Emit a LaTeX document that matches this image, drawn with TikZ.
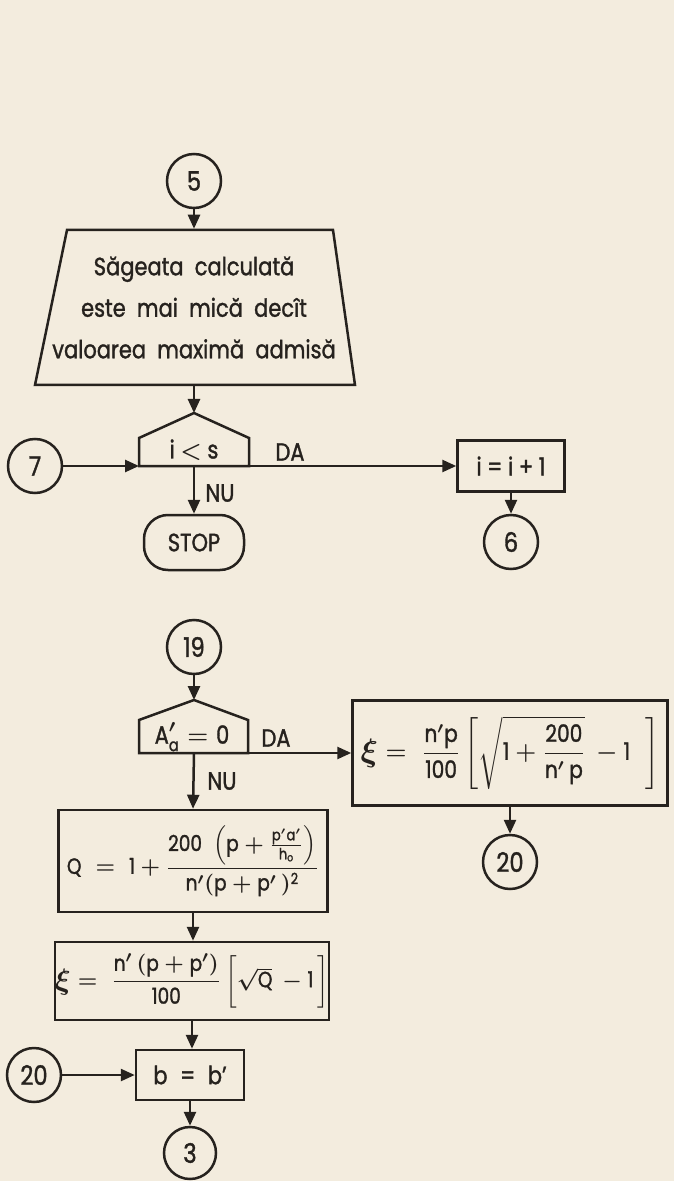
\documentclass[tikz,border=0pt]{standalone}
\usepackage{amsmath}
\usepackage{graphicx}
\usepackage{fontspec}
\setmainfont{Poppins}[FakeStretch=0.84,FakeBold=1.3]
\usetikzlibrary{arrows.meta}
\definecolor{paper}{RGB}{243,236,222}
\definecolor{ink}{RGB}{38,34,30}
\newcommand{\T}[1]{\text{#1}}
\newcommand{\bxi}{\raisebox{-0.15ex}{\scalebox{1.35}{$\xi$}}}
\begin{document}
\begin{tikzpicture}[x=0.5pt,y=-0.5pt,
  line width=1.25pt, draw=ink, text=ink,
  every node/.style={font=\fontsize{12.5}{20.75}\selectfont\boldmath},
  formula/.style={font=\fontsize{11}{13}\selectfont\boldmath},
  arr/.style={-{Triangle[length=7pt,width=6pt]}},
  conn/.style={circle,draw,minimum size=27pt,inner sep=0pt,font=\fontsize{13.5}{16}\selectfont},
  box/.style={rectangle,draw,inner sep=0pt},
  lbl/.style={inner sep=0pt}]
\fill[paper] (0,0) rectangle (674,1181);
\useasboundingbox (0,0) rectangle (674,1181);

% connector 5 and trapezoid
\node[conn] (c5) at (194,181) {5};
\draw (67,230) -- (333,230) -- (355,385) -- (35,385) -- cycle;
\node[lbl, minimum width=133pt, minimum height=77.5pt, align=center] (trap) at (194,307.5)
  {Săgeata\ \ calculată\\ este\ \ mai\ \ mică\ \ decît\\ valoarea\ \ maximă\ \ admisă};
\draw[arr] (c5) -- (trap.north);

% decision i < s
\coordinate (d1top) at (194,413);
\coordinate (d1bl) at (139,466);
\coordinate (d1br) at (249,466);
\coordinate (d1b) at (194,466);
\draw (d1bl) -- (139,438) -- (d1top) -- (249,438) -- (d1br) -- cycle;
\node[lbl] (d1) at (194,450) {i $<$ s};
\draw[arr] (trap.south) -- (d1top);
\node[lbl] (da1) at (290,452) {DA};
\node[conn] (c7) at (35,466) {7};
\draw[arr] (c7) -- (d1bl);
\node[box, minimum width=53.5pt, minimum height=25.5pt] (inc) at (511,466) {i = i + 1};
\draw[arr] (d1br) -- (inc.west);
\node[conn] (c6) at (511,542) {6};
\draw[arr] (inc) -- (c6);
\node[box, rounded corners=12pt, minimum width=50pt, minimum height=27.5pt] (stop) at (194,542.5) {STOP};
\draw[arr] (d1b) -- (stop.north);
\node[lbl] (nu1) at (220,493) {NU};

% connector 19 and decision A'a = 0
\node[conn] (c19) at (194,647) {19};
\coordinate (d2top) at (194,700);
\coordinate (d2bl) at (139,753);
\coordinate (d2br) at (248,753);
\coordinate (d2b) at (194,753);
\draw (d2bl) -- (139,720) -- (d2top) -- (248,720) -- (d2br) -- cycle;
\draw[arr] (c19) -- (d2top);
\node[lbl] (d2) at (192,737) {$\T{A}'_{\T{a}} = \T{0}$};
\node[lbl] (da2) at (276,738) {DA};
\node[lbl] (nu2) at (222,781) {NU};

% right branch
\node[box, formula, font=\fontsize{12}{14}\selectfont\boldmath, minimum width=157.5pt, minimum height=52.5pt] (xi1) at (510,753)
  {\bxi$\;=\;\dfrac{\T{n}'\T{p}}{\T{100}}\left[\sqrt{\T{1}+\dfrac{\T{200}}{\T{n}'\,\T{p}}}\,-\T{1}\;\;\right]$};
\draw[arr] (d2br) -- (xi1.west);
\node[conn] (c20r) at (510,862) {20};
\draw[arr] (xi1) -- (c20r);

% left branch
\node[box, formula, minimum width=134.5pt, minimum height=51pt] (Q) at (193,861)
  {$\T{Q}\;=\;\T{1}+\dfrac{\T{200}\;\left(\T{p}+\frac{\T{p}'\T{a}'}{\T{h}_{\T{o}}}\right)}{\T{n}'(\T{p}+\T{p}'\,)^{\T{2}}}$};
\draw[arr] (d2b) -- (Q.north);
\node[box, formula, minimum width=133pt, minimum height=39pt] (xi2) at (192,981)
  {\bxi$\;=\;\dfrac{\T{n}'\,(\T{p}+\T{p}')}{\T{100}}\left[\vphantom{\dfrac{X}{X}}\sqrt{\T{Q}}\,-\T{1}\,\right]$};
\draw[arr] (Q.south) -- (Q.south |- xi2.north);
\node[box, minimum width=54pt, minimum height=25pt] (bb) at (190,1075) {b\; = \;b'};
\draw[arr] (xi2.south) -- (xi2.south |- bb.north);
\node[conn] (c20l) at (34,1075) {20};
\draw[arr] (c20l) -- (bb);
\node[conn, minimum size=26pt] (c3) at (190,1153) {3};
\draw[arr] (bb) -- (c3);
\end{tikzpicture}
\end{document}
